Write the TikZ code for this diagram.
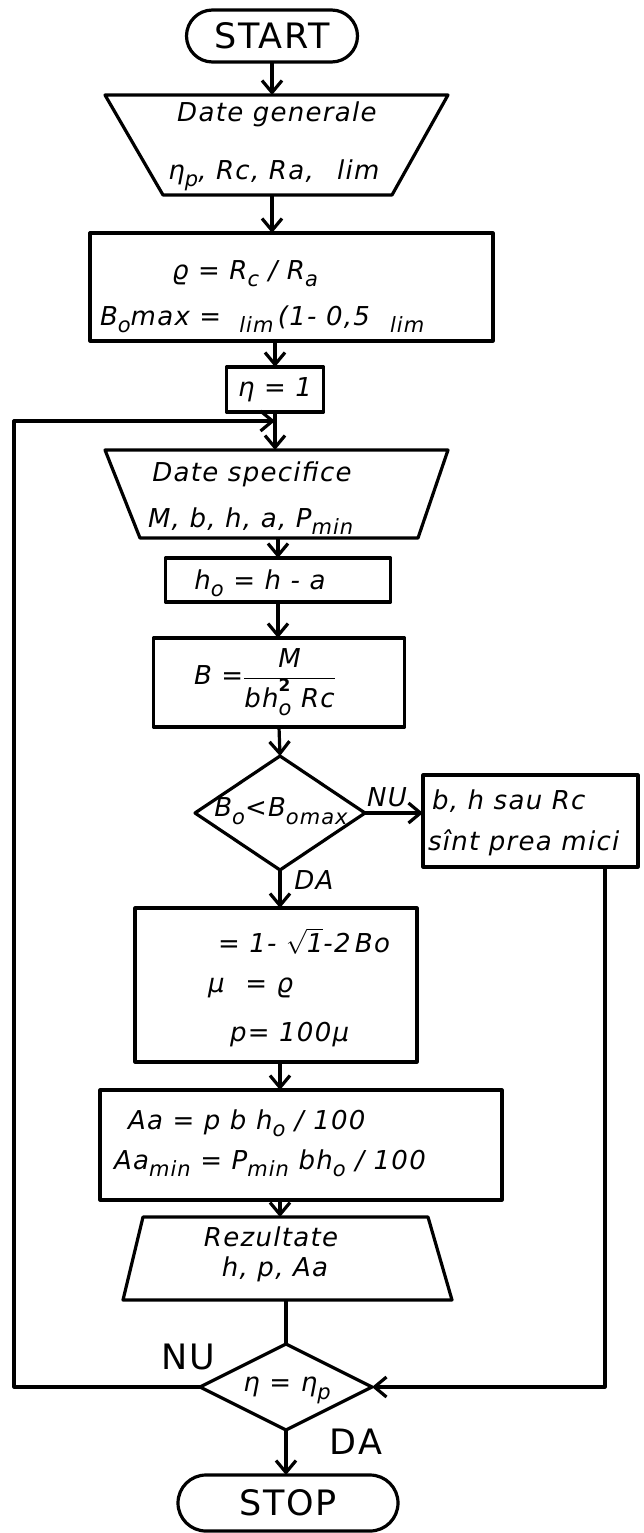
\documentclass[tikz,border=0pt]{standalone}
\usepackage{fontspec}
\setmainfont{DejaVu Sans}[LetterSpace=5]
\usetikzlibrary{arrows.meta,shapes.geometric,shapes.misc,calc}
\newcommand\lo[1]{\raisebox{-0.3em}{\fontsize{21}{21}\selectfont #1}}
\newcommand\hsq{h\rlap{\raisebox{0.6em}{\fontsize{17}{17}\selectfont\upshape\bfseries 2}}\lo{o}}
\tikzset{
  txt/.style={font=\fontsize{26}{30}\selectfont\itshape, inner sep=0pt, outer sep=0pt},
  big/.style={font=\fontsize{35}{40}\selectfont, inner sep=0pt},
  box/.style={draw, rectangle, inner sep=0pt, outer sep=0pt},
  frame/.style={rectangle, inner sep=0pt, outer sep=0pt},
  term/.style={draw, rounded rectangle, inner sep=0pt, outer sep=0pt},
  dec/.style={draw, diamond, inner sep=0pt, outer sep=0pt},
  arr/.style={-{Straight Barb[length=12pt,width=20pt]}},
}
\begin{document}
\begin{tikzpicture}[x=1pt,y=-1pt,line width=3.2pt,line join=round]
\fill[white] (0,0) rectangle (643,1533);
\useasboundingbox (0,0) rectangle (643,1533);

% START
\node[term, minimum width=171pt, minimum height=52pt] (start) at (272,36) {};
\node[big] (tstart) at (start) {START};

% Date generale (input trapezoid)
\node[frame, minimum width=343pt, minimum height=100pt] (dg) at (276.5,145) {};
\draw (dg.north west) -- (dg.north east) -- ($(dg.south east)+(-56,0)$) -- ($(dg.south west)+(58,0)$) -- cycle;
\node[txt, anchor=base] (tdg1) at (277,122) {Date generale};
\node[txt, anchor=base] (tdg2) at (274,179) {η\lo{p}, Rc, Ra,\hspace{0.9em}lim};

% rho box
\node[box, minimum width=403pt, minimum height=108pt] (r1) at (291.5,287) {};
\node[txt, anchor=base] (tr11) at (245,279) {ϱ = R\lo{c} / R\lo{a}};
\node[txt, anchor=base west] (tr12) at (100,325) {B\lo{o}max =\hspace{18pt}\lo{lim}\,(1- 0,5\hspace{20pt}\lo{lim}};

% n = 1
\node[box, minimum width=97pt, minimum height=45pt] (n1) at (275,389.5) {};
\node[txt] (tn1) at (n1) {η = 1};

% Date specifice
\node[frame, minimum width=343pt, minimum height=88pt] (dsp) at (276.5,494) {};
\draw (dsp.north west) -- (dsp.north east) -- ($(dsp.south east)+(-30,0)$) -- ($(dsp.south west)+(35,0)$) -- cycle;
\node[txt, anchor=base] (tds1) at (252,481) {Date specifice};
\node[txt, anchor=base west] (tds2) at (148,527) {M, b, h, a, P\lo{min}};

% h0
\node[box, minimum width=225pt, minimum height=44pt] (ho) at (278,580) {};
\node[txt, anchor=base] (tho) at (260,589) {h\lo{o} = h - a};

% B
\node[box, minimum width=251pt, minimum height=89pt] (bb) at (279,682.5) {};
\node[txt] (tbb) at (265,682) {B =$\displaystyle\frac{\mbox{M}}{\mbox{b\hsq\ Rc}}$};

% decision 1
\node[dec, minimum width=170pt, minimum height=114pt] (d1) at (280,813) {};
\node[txt] (td1) at (281,811) {B\lo{o}<B\lo{omax}};
\node[txt] (nu1) at (387,797) {NU};
\node[txt] (da1) at (314,880) {DA};

% error box
\node[box, minimum width=215pt, minimum height=92pt] (nb) at (530.5,821) {};
\node[txt, anchor=base west] (tnb1) at (432,809) {b, h sau Rc};
\node[txt, anchor=base west] (tnb2) at (428,850) {sînt prea mici};

% xi box
\node[box, minimum width=282pt, minimum height=154pt] (xi) at (276,985) {};
\node[txt, anchor=base west] (txi1) at (218,952) {= 1- $\sqrt{\mbox{1}}$-2\,Bo};
\node[txt, anchor=base west] (txi2) at (208,992) {μ\hspace{0.8em}= ϱ};
\node[txt, anchor=base west] (txi3) at (230,1041) {p= 100μ};

% Aa box
\node[box, minimum width=402pt, minimum height=110pt] (aa) at (301,1145) {};
\node[txt, anchor=base west] (taa1) at (128,1129) {Aa = p b h\lo{o} / 100};
\node[txt, anchor=base west] (taa2) at (114,1169) {Aa\lo{min} = P\lo{min} bh\lo{o} / 100};

% Rezultate (output trapezoid)
\node[frame, minimum width=329pt, minimum height=83pt] (rez) at (287.5,1258.5) {};
\draw ($(rez.north west)+(20,0)$) -- ($(rez.north east)+(-24,0)$) -- (rez.south east) -- (rez.south west) -- cycle;
\node[txt, anchor=base] (trz1) at (271,1246) {Rezultate};
\node[txt, anchor=base] (trz2) at (275,1276) {h, p, Aa};

% decision 2
\node[dec, minimum width=172pt, minimum height=86pt] (d2) at (286,1387) {};
\node[txt] (td2) at (287,1390) {η = η\lo{p}};
\node[big] (nu2) at (188,1357) {NU};
\node[big] (da2) at (356,1442) {DA};

% STOP
\node[term, minimum width=220pt, minimum height=56pt] (stop) at (288,1503) {};
\node[big] (tstop) at (stop) {STOP};

% helper coordinates
\coordinate (j1) at ($(n1.south)+(0,9)$);
\coordinate (lx) at (14,1387);
\coordinate (rx) at (605,867);

% connectors
\draw[arr] (start.south) -- (start.south |- dg.north);
\draw[arr] (start.south |- dg.south) -- (start.south |- r1.north);
\draw[arr] (n1.north |- r1.south) -- (n1.north);
\draw[arr] (n1.south) -- (n1.south |- dsp.north);
\draw[arr] (ho.north |- dsp.south) -- (ho.north);
\draw[arr] (ho.south) -- (ho.south |- bb.north);
\draw[arr] (bb.south) -- (d1.north);
\draw[arr] (d1.east) -- (d1.east -| nb.west);
\draw[arr] (d1.south) -- (d1.south |- xi.north);
\draw[arr] (d1.south |- xi.south) -- (d1.south |- aa.north);
\draw[arr] (d1.south |- aa.south) -- (d1.south |- rez.north);
\draw (d2.north |- rez.south) -- (d2.north);
\draw[arr] (d2.south) -- (d2.south |- stop.north);
\draw[arr] (d2.west) -- (lx) |- (j1);
\draw[arr] (rx) |- (d2.east);
\end{tikzpicture}
\end{document}
